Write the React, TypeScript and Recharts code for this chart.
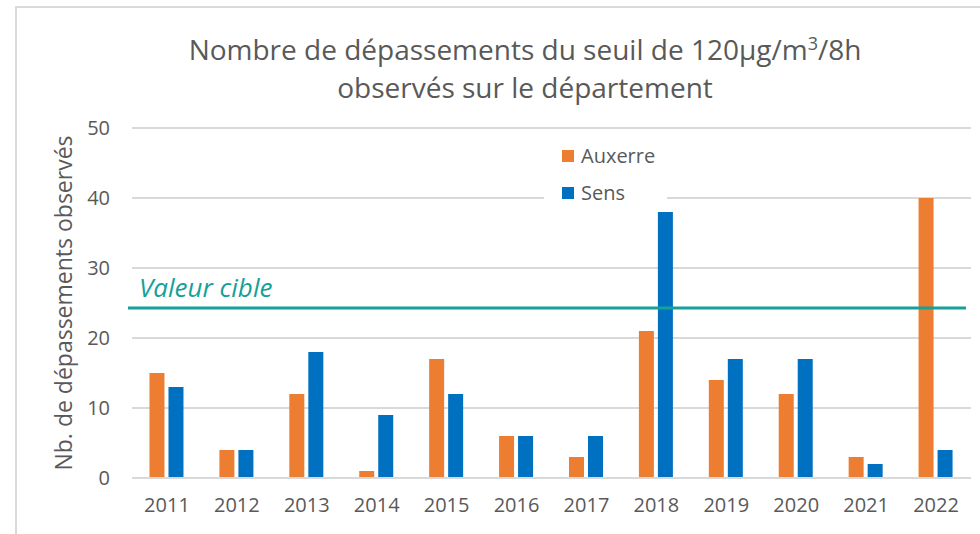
import React from 'react';
import { BarChart, Bar, XAxis, YAxis, CartesianGrid, ReferenceLine, Legend } from 'recharts';

const years = ['2011', '2012', '2013', '2014', '2015', '2016', '2017', '2018', '2019', '2020', '2021', '2022'];
const auxerre = [15, 4, 12, 1, 17, 6, 3, 21, 14, 12, 3, 40];
const sens = [13, 4, 18, 9, 12, 6, 6, 38, 17, 17, 2, 4];
const yTicks = [0, 10, 20, 30, 40, 50];
const targetValue = 24.3;
const targetLabel = 'Valeur cible';
const seriesNames = ['Auxerre', 'Sens'];
const seriesColors = ['#ED7D31', '#0070C0'];

const data = years.map((y, i) => ({ year: y, Auxerre: auxerre[i], Sens: sens[i] }));

const FONT = '"Open Sans", sans-serif';
const TEXT = '#595959';
const GRID = '#d9d9d9';
const TEAL = '#16A099';

const renderLegend = (props: any) => {
  const payload = props.payload || [];
  return (
    <div style={{ fontFamily: FONT, fontSize: 20, color: TEXT }}>
      {payload.map((p: any, i: number) => (
        <div key={i} style={{ display: 'flex', alignItems: 'center', height: 37, paddingLeft: 18 }}>
          <span style={{ display: 'inline-block', width: 12, height: 12, background: p.color, marginRight: 7 }} />
          <span style={{ lineHeight: '20px' }}>{p.value}</span>
        </div>
      ))}
    </div>
  );
};

export default function App() {
  return (
    <div style={{ position: 'fixed', left: 0, top: 0, width: 980, height: 534, background: '#fff', overflow: 'hidden' }}>
      <div style={{ position: 'absolute', left: 15, top: 6, right: -10, bottom: -10, borderLeft: `2px solid ${GRID}`, borderTop: `2px solid ${GRID}` }} />
      <div style={{ position: 'absolute', left: 0, width: 1050, top: 30, textAlign: 'center', fontFamily: FONT, fontSize: 28, color: TEXT, lineHeight: '38px' }}>
        <div>Nombre de dépassements du seuil de 120µg/m<sup style={{ fontSize: 18, verticalAlign: 'super', lineHeight: 0 }}>3</sup>/8h</div>
        <div>observés sur le département</div>
      </div>
      <div style={{ position: 'absolute', left: 0, top: 0 }}>
        <BarChart
          width={980}
          height={534}
          data={data}
          margin={{ top: 128, right: 9, bottom: 26, left: 0 }}
          barCategoryGap="25%"
          barGap={4}
        >
          <CartesianGrid vertical={false} stroke={GRID} strokeWidth={2} />
          <XAxis
            dataKey="year"
            height={30}
            tickLine={false}
            axisLine={{ stroke: GRID, strokeWidth: 2 }}
            tickSize={0}
            tickMargin={20}
            tick={{ fill: TEXT, fontFamily: FONT, fontSize: 20 }}
            interval={0}
          />
          <YAxis
            width={132}
            domain={[0, 50]}
            ticks={yTicks}
            tickLine={false}
            axisLine={false}
            tickSize={0}
            tickMargin={22}
            tick={{ fill: TEXT, fontFamily: FONT, fontSize: 20 }}
            label={{
              content: (p: any) => {
                const vb = p.viewBox || {};
                const cx = 63;
                const cy = vb.y + vb.height / 2;
                return (
                  <text x={cx} y={cy} transform={`rotate(-90, ${cx}, ${cy})`} textAnchor="middle" dominantBaseline="central" fill={TEXT} fontFamily={FONT} fontSize={23}>
                    Nb. de dépassements observés
                  </text>
                );
              },
            }}
          />
          <Legend
            layout="vertical"
            align="center"
            verticalAlign="middle"
            content={renderLegend}
            wrapperStyle={{ position: 'absolute', left: 544, top: 137, width: 123, height: 70, background: '#fff' }}
          />
          <Bar dataKey="Auxerre" name={seriesNames[0]} fill={seriesColors[0]} isAnimationActive={false} />
          <Bar dataKey="Sens" name={seriesNames[1]} fill={seriesColors[1]} isAnimationActive={false} />
          <ReferenceLine
            y={targetValue}
            ifOverflow="visible"
            shape={(p: any) => (
              <line x1={p.x1 - 4} y1={p.y1} x2={p.x2 - 5} y2={p.y2} stroke={TEAL} strokeWidth={3} />
            )}
            label={{
              content: (p: any) => {
                const vb = p.viewBox || {};
                return (
                  <text x={vb.x + 7} y={vb.y - 11} fill={TEAL} fontFamily={FONT} fontStyle="italic" fontSize={26}>
                    {targetLabel}
                  </text>
                );
              },
            }}
          />
        </BarChart>
      </div>
    </div>
  );
}
